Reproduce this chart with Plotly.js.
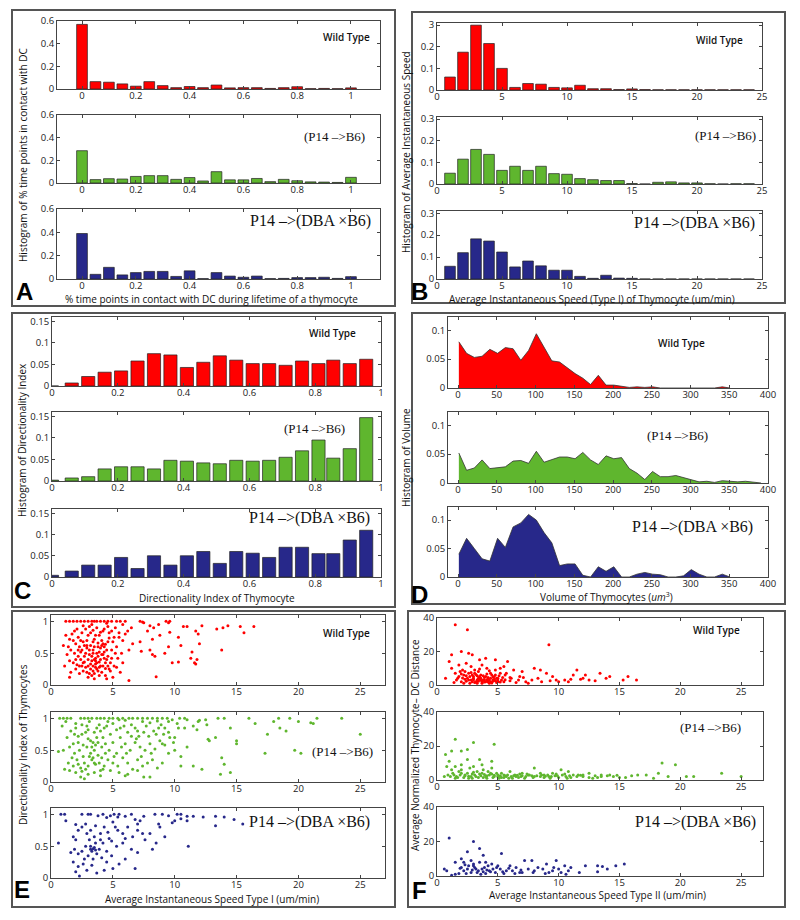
<!DOCTYPE html>
<html><head><meta charset="utf-8">
<script src="https://cdn.plot.ly/plotly-3.0.1.min.js"></script>
<style>body{margin:0;background:#fff}#chart{width:800px;height:920px}</style>
</head><body><div id="chart"></div>
<script>
// ---------- DATA ----------
const groups = ["Wild Type", "(P14 –>B6)", "P14 –>(DBA ×B6)"];

// Panel A: % time points in contact with DC
const xA = [0,0.05,0.1,0.15,0.2,0.25,0.3,0.35,0.4,0.45,0.5,0.55,0.6,0.65,0.7,0.75,0.8,0.85,0.9,0.95,1];
const aWT  = [0.57,0.065,0.06,0.045,0.025,0.065,0.03,0.012,0.022,0.012,0.035,0.01,0.012,0.012,0.005,0.012,0.02,0.003,0.005,0.003,0.01];
const aP14 = [0.285,0.03,0.038,0.035,0.058,0.065,0.065,0.032,0.048,0.018,0.1,0.028,0.028,0.04,0.012,0.032,0.02,0.01,0.008,0.005,0.05];
const aDBA = [0.39,0.04,0.1,0.035,0.055,0.065,0.065,0.022,0.07,0.003,0.055,0.025,0.015,0.025,0.003,0.005,0.012,0.012,0.015,0.005,0.02];

// Panel B: average instantaneous speed (Type I)
const xB = [1,2,3,4,5,6,7,8,9,10,11,12,13,14,15,16,17,18,19,20,21,22,23,24];
const bWT  = [0.06,0.175,0.3,0.215,0.1,0.012,0.03,0.027,0.012,0.01,0.022,0.006,0.006,0.002,0.005,0.002,0.001,0.001,0.001,0.001,0.001,0.001,0.001,0.001];
const bP14 = [0.05,0.115,0.16,0.137,0.063,0.082,0.063,0.082,0.048,0.045,0.025,0.02,0.016,0.016,0.002,0,0.008,0.01,0.005,0.005,0.001,0,0.001,0.001];
const bDBA = [0.058,0.12,0.183,0.173,0.123,0.055,0.082,0.06,0.04,0.04,0.012,0.003,0.017,0.004,0.003,0,0,0,0,0,0,0,0,0];
const bWTTickText = ["0","0.1","0.2","3"];

// Panel C: directionality index
const xC = [0,0.06,0.11,0.16,0.21,0.26,0.31,0.36,0.41,0.46,0.51,0.56,0.61,0.66,0.71,0.76,0.81,0.855,0.905,0.955];
const cWT  = [0,0.007,0.022,0.032,0.035,0.058,0.075,0.072,0.043,0.055,0.07,0.06,0.052,0.052,0.048,0.058,0.052,0.06,0.052,0.062];
const cP14 = [0.002,0.007,0.01,0.028,0.033,0.033,0.028,0.048,0.046,0.042,0.04,0.048,0.046,0.048,0.055,0.07,0.095,0.053,0.075,0.147];
const cDBA = [0.004,0.014,0.028,0.028,0.046,0.02,0.05,0.028,0.05,0.06,0.032,0.06,0.056,0.046,0.07,0.07,0.055,0.055,0.087,0.11];

// Panel D: volume of thymocytes
const xD = [1,11,21,31,41,51,61,71,81,91,101,111,121,131,141,151,161,171,181,191,201,211,221,231,241,251,261,271,281,291,301,311,321,331,341,351,361,371,381,391];
const dWT  = [0.08,0.06,0.053,0.055,0.067,0.06,0.07,0.068,0.048,0.065,0.094,0.07,0.047,0.045,0.035,0.025,0.017,0.006,0.022,0.005,0.005,0.003,0.001,0.002,0.001,0.002,0,0,0,0,0,0,0,0,0.002,0];
const dP14 = [0.052,0.022,0.026,0.04,0.025,0.026,0.028,0.038,0.039,0.034,0.055,0.036,0.041,0.045,0.045,0.042,0.053,0.04,0.032,0.047,0.042,0.044,0.025,0.017,0.006,0.02,0.011,0.011,0.013,0.009,0.006,0.002,0.003,0.001,0.004,0.003,0.002,0.003,0.001,0];
const dDBA = [0.04,0.068,0.05,0.032,0.028,0.068,0.052,0.088,0.095,0.11,0.1,0.078,0.06,0.02,0.023,0.023,0.003,0,0.018,0.01,0.018,0,0,0.005,0.008,0.005,0.004,0,0,0.002,0.013,0.005,0,0,0.005,0];

// Panel E: speed (Type I) vs directionality index, [speed, index]
const eWT = [[1.2,1],[1.5,1],[1.8,1],[2.1,1],[2.4,1],[2.7,1],[3.0,1],[3.3,1],[3.5,1],[3.7,1],[4.0,1],[4.3,1],[4.6,1],[4.9,1],[5.3,1],[5.6,1],[6.0,1],[7.2,1],[7.4,0.99],[9.3,1],[9.6,1],
[7.5,0.98],[8.0,0.93],[8.3,0.9],[8.7,0.95],[9.5,0.98],[10.7,0.92],[11.0,0.92],[11.7,0.85],[12.2,0.93],[13.4,0.88],[13.9,0.9],[14.3,0.93],[15.3,0.92],[15.6,0.82],[16.4,0.92],[11.9,0.8],[9.6,0.83],[7.8,0.85],[6.5,0.9],[5.8,0.95],
[8.8,0.78],[8.2,0.72],[6.2,0.85],[7.2,0.68],[5.8,0.7],[6.6,0.65],[10.3,0.75],[12.0,0.65],[10.5,0.62],[8.0,0.55],[9.5,0.6],[13.8,0.55],[11.4,0.52],[8.2,0.48],[8.4,0.45],[6.3,0.55],[7.3,0.53],[11.3,0.42],[11.8,0.4],[11.6,0.35],[11.7,0.33],[9.8,0.35],[10.3,0.36],[8.5,0.13],[6.3,0.07],[9.2,0.5],
[1.2,0.78],[1.5,0.72],[1.7,0.8],[1.9,0.85],[2.2,0.75],[2.5,0.82],[2.8,0.88],[3.1,0.92],[3.4,0.86],[3.7,0.9],[4.0,0.83],[4.3,0.88],[4.6,0.92],[4.9,0.85],[5.2,0.9],[5.5,0.82],
[2.0,0.65],[2.3,0.6],[2.6,0.68],[2.9,0.7],[3.2,0.62],[3.5,0.72],[3.8,0.66],[4.1,0.7],[4.4,0.64],[4.7,0.74],[5.0,0.68],[5.3,0.6],
[1.6,0.55],[1.9,0.5],[2.2,0.45],[2.5,0.55],[2.8,0.5],[3.1,0.48],[3.4,0.55],[3.7,0.5],[4.0,0.58],[4.3,0.52],[4.6,0.45],[4.9,0.55],[5.2,0.5],
[1.5,0.38],[1.8,0.35],[2.1,0.32],[2.4,0.4],[2.7,0.36],[3.0,0.3],[3.3,0.38],[3.6,0.33],[3.9,0.36],[4.2,0.3],[4.5,0.4],[4.8,0.35],[5.1,0.3],
[1.6,0.2],[2.0,0.25],[2.3,0.18],[2.6,0.22],[2.9,0.2],[3.2,0.25],[3.5,0.18],[3.8,0.22],[4.1,0.2],[4.4,0.15],[4.7,0.25],[5.0,0.12],[1.5,0.12],[3.0,0.12],[3.5,0.1],[4.5,0.1],
[2.3,0.3],[3.6,0.42],[3.8,0.6],[2.6,0.93],[3.3,0.95],[4.5,0.97],[3.9,0.78],[2.4,0.7],[3.0,0.78],[3.6,0.28],[4.0,0.4],[4.2,0.65],[3.4,0.68],[2.9,0.58],[2.7,0.45],[5.4,0.42],[5.6,0.2],[5.8,0.35],[5.5,0.75],[1.3,0.48],[1.1,0.3],[1.0,0.62],
[3.3,0.45],[3.7,0.35],[4.1,0.48],[3.5,0.6],[3.9,0.52],[4.3,0.42],[3.1,0.55],[2.8,0.28],[4.6,0.3],[3.4,0.22],
[2.1,0.88],[2.4,0.52],[2.6,0.35],[2.9,0.62],[3.2,0.82],[3.4,0.3],[3.5,0.4],[3.7,0.25],[3.8,0.45],[4.0,0.3],[4.1,0.62],[4.2,0.85],[4.4,0.35],[4.5,0.55],[4.6,0.68],[4.8,0.22],[4.9,0.42],[5.1,0.75],[3.0,0.4],[3.2,0.33],
[3.4,0.5],[3.6,0.38],[3.9,0.28],[4.2,0.48],[4.4,0.26],[2.2,0.55],[2.5,0.3],[2.7,0.62],[3.1,0.18],[3.3,0.15],[3.9,0.15],[4.3,0.6],[2.0,0.4],[1.8,0.7],[1.4,0.6],[5.3,0.28],[5.7,0.5],[6.0,0.8],[4.7,0.82],[3.6,0.78]];
const eP14 = [[0.7,1],[1.0,1],[1.3,1],[1.6,1],[2.4,1],[2.7,1],[3.0,1],[3.3,1],[3.7,1],[4.0,1],[4.3,1],[4.7,1],[5.0,1],[5.4,1],[5.8,1],[6.3,1],[6.6,1],[7.0,1],[7.4,1],[7.8,1],[8.2,1],[8.6,1],[9.0,1],[9.4,1],[10.4,1],[10.8,1],
[11.0,0.98],[12.0,0.97],[13.5,1],[14.0,1],[16.0,1],[18.4,1],[19.3,1],[21.5,1],[23.5,1],[16.5,0.92],[18.0,0.95],[20.0,0.95],[21.0,0.93],[21.2,0.92],[17.5,0.75],[18.5,0.85],[19.0,0.8],[25.0,0.75],[14.5,0.85],[12.6,0.9],[11.5,0.88],[11.8,0.82],[13.3,0.7],[15.0,0.65],[15.0,0.6],[12.7,0.67],[12.8,0.65],[17.3,0.45],[19.7,0.5],[20.2,0.45],[13.8,0.38],[14.0,0.28],[14.5,0.15],[13.7,0.12],[11.5,0.25],[12.2,0.2],[10.5,0.25],[8.0,0.08],[7.5,0.08],[2.7,0.05],[10.0,0.5],[9.5,0.45],[10.5,0.4],[9.0,0.6],[11.0,0.55],[10.0,0.7],
[0.6,0.48],[1.0,0.5],[0.9,0.88],[1.3,0.7],[1.6,0.8],[1.8,0.6],[2.0,0.85],[2.2,0.72],[2.5,0.9],[2.8,0.78],[3.0,0.82],[3.2,0.65],[3.5,0.78],[3.7,0.85],[4.0,0.8],[4.2,0.7],[4.5,0.88],[4.8,0.75],[5.0,0.92],[5.3,0.82],[5.6,0.7],[5.9,0.88],[6.2,0.78],[6.5,0.9],[6.8,0.85],[7.1,0.72],[7.4,0.95],[7.7,0.88],[8.0,0.93],[8.3,0.8],[8.6,0.96],[8.9,0.9],[9.2,0.85],[9.5,0.95],[9.8,0.98],[10.2,0.92],
[1.5,0.55],[1.9,0.45],[2.3,0.5],[2.6,0.4],[2.9,0.55],[3.2,0.45],[3.5,0.5],[3.8,0.42],[4.1,0.55],[4.4,0.6],[4.7,0.5],[5.0,0.62],[5.3,0.45],[5.7,0.55],[6.0,0.6],[6.4,0.5],[6.8,0.62],[7.2,0.55],[7.6,0.5],[8.0,0.6],[8.4,0.52],[8.8,0.65],[9.2,0.58],
[1.4,0.3],[1.8,0.25],[2.1,0.35],[2.4,0.22],[2.7,0.3],[3.0,0.25],[3.3,0.35],[3.6,0.28],[3.9,0.3],[4.2,0.2],[4.6,0.35],[5.0,0.3],[5.4,0.25],[5.8,0.38],[6.2,0.3],[6.6,0.2],[7.0,0.35],[7.4,0.25],[7.8,0.3],[8.2,0.35],[8.6,0.22],[9.0,0.3],
[1.5,0.18],[2.0,0.15],[2.5,0.17],[3.0,0.12],[3.5,0.15],[4.0,0.1],[4.8,0.18],[5.5,0.15],[6.2,0.12],[7.0,0.18],
[2.2,0.62],[3.0,0.68],[3.4,0.38],[3.8,0.62],[4.3,0.85],[4.6,0.95],[5.5,0.98],[6.0,0.97],[6.5,0.72],[7.0,0.8],[7.5,0.78],[8.5,0.75],[9.5,0.78],[9.6,0.7],[10.3,0.85],[3.1,0.95],[2.0,0.92],[1.2,0.95],[3.6,0.58],[2.8,0.2],[4.4,0.45],[1.7,0.38],
[2.5,0.75],[2.9,0.88],[3.1,0.4],[3.3,0.55],[3.5,0.3],[3.7,0.7],[3.9,0.9],[4.1,0.38],[4.3,0.25],[2.6,0.58],[2.2,0.28],[1.9,0.75],[1.1,0.2],[5.1,0.4],[5.6,0.85],[6.1,0.45],[6.9,0.68],[7.3,0.4],[7.9,0.72],[8.1,0.45],
[8.7,0.85],[9.1,0.75],[9.9,0.62],[10.8,0.85],[11.9,0.95],[12.5,0.98],[3.4,0.62],[4.0,0.18],[2.4,0.08],[6.0,0.1]];
const eDBA = [[0.8,1],[1.1,1],[2.5,1],[3.0,1],[3.2,1],[3.8,0.98],[4.2,1],[4.8,0.98],[5.1,1],[5.5,1],[6.0,0.97],[6.5,1],[7.5,0.97],[8.4,1],[9.0,1],[9.5,0.98],[10.2,1],[10.5,1],[11.0,0.97],[11.5,0.97],[12.3,0.96],[13.3,0.97],[14.0,0.96],[14.8,0.92],[15.5,0.85],[13.3,0.82],[10.0,0.9],[10.5,0.93],[11.0,0.9],[9.8,0.87],[8.7,0.85],[7.2,0.9],[7.0,0.85],[5.4,0.96],[4.5,0.95],[2.8,0.85],[1.2,0.9],
[0.6,0.55],[1.8,0.65],[2.2,0.75],[2.0,0.6],[2.5,0.8],[3.2,0.75],[3.6,0.82],[4.0,0.7],[4.3,0.8],[4.6,0.72],[5.0,0.88],[5.4,0.75],[5.8,0.7],[6.2,0.8],[6.6,0.65],[7.0,0.75],[7.6,0.6],[8.0,0.7],[8.5,0.55],[9.2,0.65],[8.2,0.45],[7.0,0.4],[6.5,0.45],[5.8,0.55],[5.3,0.5],[4.9,0.58],[4.5,0.42],[4.2,0.55],[3.9,0.45],[3.5,0.48],[3.2,0.45],[2.8,0.5],[2.5,0.42],[2.2,0.38],[1.9,0.45],[1.6,0.4],
[3.0,0.35],[3.4,0.3],[3.7,0.38],[4.1,0.32],[4.5,0.25],[4.9,0.35],[5.5,0.22],[6.0,0.3],[6.8,0.15],[1.8,0.25],[2.2,0.18],[2.6,0.22],[2.9,0.12],[3.3,0.2],[3.7,0.08],[4.3,0.12],[2.0,0.1],[2.3,0.03],[5.0,0.15],[3.1,0.6],[3.5,0.65],[2.7,0.3],[4.0,0.6],[11.1,0.5],[5.2,0.8],[6.0,0.62],[3.3,0.42],[3.6,0.55],[2.9,0.7],[4.7,0.62],[7.4,0.7],[8.8,0.8],[3.4,0.46],[3.2,0.5],[3.6,0.44],[2.0,0.84],[6.8,0.92]];

// Panel F: speed (Type II) vs normalized thymocyte-DC distance, [speed, distance]
const fWT = [[1.5,36],[2.5,33],[9.2,24],[2.0,20],[1.0,14],[1.2,18],[2.6,19],[2.9,18],[3.5,15],[4.0,16],[4.8,15],[5.8,14],[5.5,11],[6.3,9],[7.0,8],[8.0,10],[8.5,9],[9.0,7],[9.5,5],[11.5,9],[11.2,6],[12.2,6],[13.4,7],[14.2,5],[13.9,4],[15.7,5],[16.4,3],[15.3,3],[12.0,4],[11.0,3.5],[10.5,3],[10.0,2],[8.3,4],[7.8,3],[7.3,2],[6.7,3],[6.1,4],[5.3,3],[0.7,4],
[1.2,10],[1.5,7],[1.8,12],[2.1,9],[2.4,13],[2.8,11],[3.1,9],[3.4,8],[3.7,12],[4.1,10],[4.4,7],[4.8,9],[5.2,7],[5.6,6],
[1.6,3],[1.8,5],[2.0,2],[2.2,6],[2.5,4],[2.8,3],[3.0,5],[3.2,2],[3.4,4],[3.6,6],[3.8,3],[4.0,5],[4.2,2],[4.4,4],[4.6,3],[4.8,6],[5.0,2],[5.0,4],[3.3,1],[2.7,1],[4.3,1],[5.5,2],[6.5,1.5],[7.5,1],[9.8,3],[12.5,3],
[3.5,3.5],[3.9,4.5],[2.3,3.5],[4.7,5],[3.1,7],[4.9,1.5],[1.4,1.5],[2.9,6],[3.7,2],[4.5,6],[5.2,10],[6.0,4.5],[2.6,7],[3.3,5.5],[4.1,3.2],[2.1,4.2],[1.9,8],[3.6,2.8],[4.2,3.8],[2.4,2.2],[3.0,3.2],[4.6,2.2],[3.9,1.8],
[1.7,4],[2.0,6.5],[2.2,1],[2.4,5.5],[2.6,3],[2.7,5],[2.9,2],[3.0,4],[3.1,1.5],[3.2,6.2],[3.3,3],[3.4,2.2],[3.5,5],[3.6,4],[3.7,1],[3.8,5.5],[3.9,3],[4.0,2],[4.1,6.5],[4.2,4.5],[4.3,3],[4.4,2],[4.5,1.2],
[4.6,4.8],[4.7,3.5],[4.8,2.5],[4.9,4],[5.0,3],[5.1,5.5],[5.2,1.8],[5.4,4.5],[5.6,3.2],[2.3,8],[2.8,7.5],[3.5,9.5],[4.3,8.5],[5.7,7],[6.0,2.5],[6.8,5],[7.1,4.5],[8.6,2],[9.3,2.5],[10.8,2],[11.8,3.5],[13.0,2.5]];
const fP14 = [[1.5,24],[3.0,22],[4.7,21],[1.2,17],[0.7,15],[2.0,17],[2.5,18],[1.0,11],[2.5,12],[3.5,12],[4.5,11],[1.5,8],[3.0,8],[0.8,8],[2.0,6],[3.8,6],[4.5,7],
[18.5,10],[19.6,9],[23.4,4],[17.2,3],[16.5,3],[18.2,4],[20.5,2],[21.1,2],[19.0,2],[17.8,1],[25.0,2],[15.5,1.5],[14.5,2],[13.5,3],[12.5,4],[12.0,2],[11.2,3],[10.8,5],[10.2,6],[9.5,4],[8.8,3],[8.0,7],[7.5,3],[7.0,4],[6.5,2],[6.0,5],[5.5,3],[5.0,2],
[0.6,2],[0.9,3],[1.3,4],[1.6,2],[1.9,3],[2.2,1.5],[2.5,4],[2.8,2],[3.1,3],[3.4,1.5],[3.7,4],[4.0,2],[4.3,3],[4.6,1.5],[4.9,4],[5.2,2.5],[5.5,1.5],[5.8,3],[6.1,2],[6.4,3],[6.7,1.5],[7.0,2.5],[7.3,2],[7.6,3],[7.9,1.5],[8.2,2.5],[8.5,2],[8.8,1.5],[9.1,3],[9.4,2],[9.7,2.5],[10.0,1.5],[10.3,3],[10.6,2],[10.9,2.5],[11.5,2],[12.0,3],[12.5,1.5],[13.0,2.5],[13.5,2],[14.0,2.5],[15.0,1.5],
[1.8,5],[2.7,7],[3.3,5],[4.2,5],[2.0,9],[3.7,9],[1.2,6],[2.3,3],[3.0,4.5],[4.5,3.5],[5.3,4],[6.8,3.5],[8.5,4],[9.8,3.5],[11.8,2.8],[2.9,1],[3.6,2.5],[4.1,1],[5.7,2],[6.2,1],[7.8,2.5],[9.3,1],[10.7,1],[1.5,1],[2.6,2.2],[3.9,3.2],[4.7,2.8],[5.1,1],[6.6,2.8],[7.2,1],[8.9,2.2],[12.8,1],[14.8,2.8],
[1.1,2],[1.4,3],[1.7,1.5],[2.0,4],[2.3,2.5],[2.6,1],[2.9,3.5],[3.2,2],[3.5,3.5],[3.8,1.5],[4.1,2.5],[4.4,4],[4.7,2],[5.0,3],[5.3,1.5],[5.6,2.5],[5.9,1],[6.3,2.5],[6.9,2],[7.4,3.5],[8.0,2],[8.6,3],[9.2,2],[9.9,2.5],[10.5,3.5],[11.0,1.5],[11.6,3],[13.2,1.5],[14.2,3],[16.0,2.5]];
const fDBA = [[1.0,22],[3.0,20],[3.5,16],[5.3,13],[2.5,14],[3.8,12],[2.0,10],[1.5,8],[2.2,8],[2.8,9],[3.0,7],[3.5,8],[4.0,8],[4.5,7],[5.0,6],[6.0,6],[7.2,9],[7.8,9],[9.0,7],[9.8,9],[10.5,6],[11.0,5],[12.2,6],[13.2,6],[13.6,5.5],[14.7,6],[15.4,7],[13.2,2.5],[14.0,4],[11.7,2],[10.8,3],[10.2,2],[9.5,3],[8.7,4],[8.0,3],[7.5,4],[6.8,2],[6.5,5],[5.7,3],[5.2,4],[4.8,2],[4.3,3],[4.0,1.5],[3.7,4],[3.4,3],[3.1,5],[2.8,2],[2.5,4],[2.2,3],[1.8,1.5],[1.5,1],[0.6,4],[0.8,3],[1.2,0.5],
[2.0,5],[3.3,2],[3.9,5],[4.6,4],[5.5,1.5],[6.2,3],[7.0,2],[8.3,5],[9.2,2],[10.0,4],[2.6,6],[3.2,4],[4.2,6],[4.9,5],[5.9,4.5],[6.9,3.5],[7.9,2],[8.9,1.5],[3.6,1],[2.9,3.5],[2.4,1.5],[1.9,4.5],[4.4,2.5],[5.4,2.5],[6.4,1.5],[9.6,5],[10.6,1],[3.0,6],[2.3,6.5],[3.8,2.5],[4.1,3.5]];

// ---------- STYLE ----------
const cols = ["#ff0000", "#5fb62e", "#27288a"];
const sans = "Open Sans, Liberation Sans, sans-serif";
const serif = "Liberation Serif, Times New Roman, serif";
const W = 800, H = 920;
const px = v => v / W, py = v => 1 - v / H;

const layout = {width: W, height: H, margin: {l:0,r:0,t:0,b:0}, paper_bgcolor: "#fff", plot_bgcolor: "#fff",
  showlegend: false, bargap: 0, shapes: [], annotations: []};
const data = [];
let n = 0;

function sub(box, xr, yr, xt, yt, ytt) {
  n++;
  const xa = n === 1 ? "xaxis" : "xaxis" + n, ya = n === 1 ? "yaxis" : "yaxis" + n;
  const xr_ = n === 1 ? "x" : "x" + n, yr_ = n === 1 ? "y" : "y" + n;
  const common = {showgrid:false, zeroline:false, showline:true, linecolor:"#444", linewidth:1, mirror:"allticks",
    ticks:"inside", ticklen:3, tickcolor:"#444", tickfont:{family:sans, size:9.5, color:"#222"}, fixedrange:true};
  layout[xa] = Object.assign({}, common, {domain:[px(box[0]), px(box[1])], range:xr, anchor:yr_,
    tickvals:xt, ticktext:xt.map(String), ticklabelstandoff:-2});
  layout[ya] = Object.assign({}, common, {domain:[py(box[3]), py(box[2])], range:yr, anchor:xr_,
    tickvals:yt, ticktext: ytt || yt.map(String)});
  return [xr_, yr_];
}

function label(i, x, y) {
  const f = i === 0 ? {family:sans, size:10, color:"#111", weight:600} :
            i === 1 ? {family:serif, size:13, color:"#111"} : {family:serif, size:16, color:"#111"};
  layout.annotations.push({xref:"paper", yref:"paper", x:px(x), y:py(y), xanchor:"right", yanchor:"middle",
    text:groups[i], showarrow:false, font:f});
}
function note(text, x, y, size, angle, extra) {
  layout.annotations.push(Object.assign({xref:"paper", yref:"paper", x:px(x), y:py(y), xanchor:"center", yanchor:"middle",
    text:text, showarrow:false, textangle:angle||0, font:{family:sans, size:size, color:"#111"}}, extra||{}));
}
function box(x0, y0, x1, y1) {
  layout.shapes.push({type:"rect", xref:"paper", yref:"paper", x0:px(x0), x1:px(x1), y0:py(y1), y1:py(y0),
    line:{color:"#555", width:2}});
}

// ---------- PANEL A ----------
const aRows = [[21,89],[115,183],[209,279]];
[aWT, aP14, aDBA].forEach((v, i) => {
  const [xr, yr] = sub([57, 380, aRows[i][0], aRows[i][1]], [-0.093, 1.108], [0, 0.6], [0,0.2,0.4,0.6,0.8,1], [0,0.2,0.4,0.6]);
  data.push({type:"bar", x:xA, y:v, width:0.04, xaxis:xr, yaxis:yr, marker:{color:cols[i], line:{color:"#222", width:0.7}}});
});
label(0, 372, 37); label(1, 367, 137); label(2, 373, 221);

// ---------- PANEL B ----------
const bRows = [[23,90],[117,184],[211,279]];
[bWT, bP14, bDBA].forEach((v, i) => {
  const [xr, yr] = sub([437, 762, bRows[i][0], bRows[i][1]], [0, 25], [0, 0.31], [0,5,10,15,20,25], [0,0.1,0.2,0.3], i === 0 ? bWTTickText : null);
  data.push({type:"bar", x:xB, y:v, width:0.82, xaxis:xr, yaxis:yr, marker:{color:cols[i], line:{color:"#222", width:0.7}}});
});
label(0, 745, 40); label(1, 758, 135); label(2, 757, 223);

// ---------- PANEL C ----------
const cRows = [[317,386],[412,481],[509,577]];
[cWT, cP14, cDBA].forEach((v, i) => {
  const [xr, yr] = sub([52, 381, cRows[i][0], cRows[i][1]], [0, 1], [0, 0.16], [0,0.2,0.4,0.6,0.8,1], [0,0.05,0.1,0.15]);
  data.push({type:"bar", x:xC, y:v, width:0.04, xaxis:xr, yaxis:yr, marker:{color:cols[i], line:{color:"#222", width:0.7}}});
});
label(0, 358, 333); label(1, 347, 428); label(2, 372, 518);

// ---------- PANEL D ----------
const dRows = [[317,388],[412,483],[507,577]];
[dWT, dP14, dDBA].forEach((v, i) => {
  const [xr, yr] = sub([448, 768, dRows[i][0], dRows[i][1]], [-13, 400], [0, 0.123], [0,50,100,150,200,250,300,350,400], [0,0.05,0.1]);
  data.push({type:"scatter", mode:"lines", x:xD.slice(0, v.length), y:v, fill:"tozeroy", fillcolor:cols[i],
    xaxis:xr, yaxis:yr, line:{color:"#333", width:0.8}});
});
label(0, 707, 343); label(1, 710, 436); label(2, 755, 527);

// ---------- PANEL E ----------
const eRows = [[615,685],[712,782],[808,878]];
[eWT, eP14, eDBA].forEach((v, i) => {
  const [xr, yr] = sub([51, 385, eRows[i][0], eRows[i][1]], [0, 27], [0, 1.1], [0,5,10,15,20,25], [0,0.5,1]);
  data.push({type:"scatter", mode:"markers", x:v.map(p => p[0]), y:v.map(p => p[1]), xaxis:xr, yaxis:yr,
    marker:{color:cols[i], size:3}});
});
label(0, 372, 633); label(1, 375, 751); label(2, 372, 822);

// ---------- PANEL F ----------
const fRows = [[618,685],[712,780],[807,876]];
[fWT, fP14, fDBA].forEach((v, i) => {
  const [xr, yr] = sub([437, 763, fRows[i][0], fRows[i][1]], [0, 26.8], [0, 40], [0,5,10,15,20,25], [0,20,40]);
  data.push({type:"scatter", mode:"markers", x:v.map(p => p[0]), y:v.map(p => p[1]), xaxis:xr, yaxis:yr,
    marker:{color:cols[i], size:3}});
});
label(0, 742, 630); label(1, 743, 727); label(2, 758, 822);

// ---------- boxes, letters, titles ----------
box(12, 10, 395, 306); box(412, 12, 785, 303);
box(12, 313, 395, 607); box(412, 313, 785, 604);
box(12, 611, 395, 907); box(408, 611, 785, 907);

const letter = {family:"Liberation Sans, Arial, sans-serif", size:24, color:"#000", weight:700};
note("A", 24, 291, 24, 0, {font:letter});
note("B", 419, 292, 24, 0, {font:letter});
note("C", 22, 590, 24, 0, {font:letter});
note("D", 419, 594, 24, 0, {font:letter});
note("E", 22, 889, 24, 0, {font:letter});
note("F", 419, 890, 24, 0, {font:letter});

note("Histogram of % time points in contact with DC", 23, 155, 10, -90);
note("% time points in contact with DC during lifetime of a thymocyte", 211, 299, 10);
note("Histogram of Average Instantaneous Speed", 406, 152, 10, -90);
note("Average Instantaneous Speed (Type I) of Thymocyte (um/min)", 592, 299, 10);
note("Histogram of Directionality Index", 22, 440, 10, -90);
note("Directionality Index of Thymocyte", 217, 598, 10);
note("Histogram of Volume", 406, 457, 10, -90);
note("Volume of Thymocytes (<i>um</i><sup>3</sup>)", 606, 597, 10);
note("Directionality Index of Thymocytes", 23, 745, 10, -90);
note("Average Instantaneous Speed Type I (um/min)", 212, 899, 10);
note("Average Normalized Thymocyte– DC Distance", 415, 745, 10, -90);
note("Average Instantaneous Speed Type II (um/min)", 597, 895, 10);

Plotly.newPlot("chart", data, layout, {staticPlot:true, displayModeBar:false});
</script></body></html>
